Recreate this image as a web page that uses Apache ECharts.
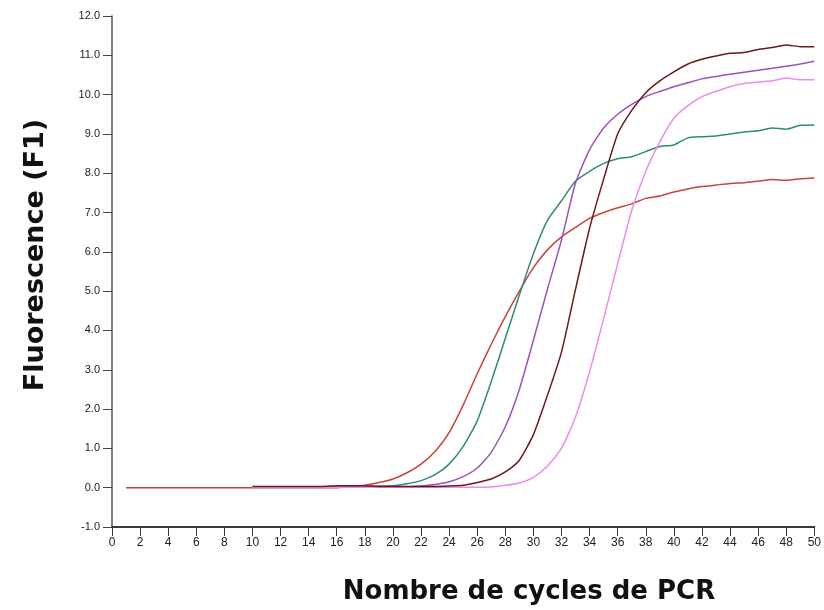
<!DOCTYPE html>
<html>
<head>
<meta charset="utf-8">
<script src="https://cdn.jsdelivr.net/npm/echarts@6/dist/echarts.min.js"></script>
<style>
  html, body { margin: 0; padding: 0; background: #fff; }
  #chart { width: 824px; height: 610px; }
</style>
</head>
<body>
<div id="chart"></div>
<script>
// Real-time PCR amplification curves: fluorescence (F1) per cycle.

// Cycle numbers at which each run was read
const cyclesFrom1 = [1,2,3,4,5,6,7,8,9,10,11,12,13,14,15,16,17,18,19,20,21,22,23,24,25,
  26,27,28,29,30,31,32,33,34,35,36,37,38,39,40,41,42,43,44,45,46,47,48,49,50];
const cyclesFrom10 = [10,11,12,13,14,15,16,17,18,19,20,21,22,23,24,25,
  26,27,28,29,30,31,32,33,34,35,36,37,38,39,40,41,42,43,44,45,46,47,48,49,50];

// Fluorescence readings
const redValues = [0,0,0,0,0,0,0,0,0,0,0,0,0,0,0,0,
  0.03,0.06,0.13,0.22,0.38,0.60,0.92,1.40,2.10,2.90,3.65,4.35,5.00,5.60,6.05,6.38,
  6.62,6.85,7.00,7.12,7.22,7.36,7.42,7.52,7.60,7.66,7.70,7.74,7.76,7.80,7.84,7.82,7.86,7.88];
const tealValues = [0.02,0.02,0.02,0.02,0.02,0.02,0.02,0.03,0.03,0.04,
  0.05,0.10,0.18,0.33,0.60,1.05,1.70,2.70,3.80,4.90,5.95,6.80,7.30,7.80,8.05,8.25,
  8.37,8.42,8.55,8.68,8.72,8.90,8.93,8.95,9.00,9.05,9.08,9.15,9.12,9.22,9.23];
const purpleValues = [0.02,0.02,0.02,0.02,0.02,0.02,0.02,0.02,0.02,0.02,0.02,0.02,
  0.04,0.08,0.15,0.28,0.50,0.90,1.55,2.50,3.75,5.05,6.30,7.75,8.60,9.15,
  9.50,9.75,9.95,10.08,10.20,10.30,10.40,10.46,10.52,10.57,10.62,10.67,10.72,10.78,10.85];
const pinkValues = [0.01,0.01,0.01,0.01,0.01,0.01,0.01,0.01,0.01,0.01,0.01,0.01,0.01,0.01,0.01,0.01,0.01,
  0.02,0.06,0.12,0.26,0.55,1.00,1.80,2.95,4.30,5.70,7.05,8.05,8.80,9.40,
  9.72,9.95,10.08,10.20,10.28,10.32,10.35,10.42,10.38,10.38];
const brownValues = [0.03,0.03,0.03,0.03,0.03,0.03,0.05,0.05,0.05,0.03,0.03,0.03,0.03,0.03,
  0.04,0.06,0.13,0.22,0.40,0.70,1.35,2.35,3.45,5.05,6.60,7.85,9.00,9.60,10.05,10.35,
  10.58,10.78,10.90,10.98,11.05,11.07,11.15,11.20,11.26,11.22,11.22];

// Axis ticks
const yTicks = [-1,0,1,2,3,4,5,6,7,8,9,10,11,12];
const xTickStep = 2;

const pair = (xs, ys) => xs.map((x, i) => [x, ys[i]]);

const runs = [
  { name: 'A', color: '#c8443a', x: cyclesFrom1, y: redValues },
  { name: 'B', color: '#2f8a7c', x: cyclesFrom10, y: tealValues },
  { name: 'C', color: '#9c52b6', x: cyclesFrom10, y: purpleValues },
  { name: 'D', color: '#ee8bec', x: cyclesFrom10, y: pinkValues },
  { name: 'E', color: '#6a1a1c', x: cyclesFrom10, y: brownValues }
];

const chart = echarts.init(document.getElementById('chart'), null, { renderer: 'canvas' });

chart.setOption({
  animation: false,
  backgroundColor: '#ffffff',
  grid: { left: 112, right: 9, top: 16, bottom: 83, containLabel: false },
  xAxis: {
    type: 'value',
    min: 0, max: 50, interval: xTickStep,
    axisLine: { show: true, onZero: false, lineStyle: { color: '#3a3a3a', width: 2 } },
    axisTick: { show: true, inside: false, length: 9, lineStyle: { color: '#3a3a3a', width: 1 } },
    axisLabel: { margin: 10, color: '#222', fontSize: 12,
      fontFamily: '"Liberation Sans Narrow", "Arial Narrow", sans-serif' },
    splitLine: { show: false }
  },
  yAxis: {
    type: 'value',
    min: yTicks[0], max: yTicks[yTicks.length - 1], interval: 1,
    axisLine: { show: true, onZero: false, lineStyle: { color: '#555', width: 1.5 } },
    axisTick: { show: true, inside: false, length: 9, lineStyle: { color: '#444', width: 1 } },
    axisLabel: { margin: 12, color: '#222', fontSize: 11,
      fontFamily: '"Liberation Sans", Arial, sans-serif',
      formatter: v => v.toFixed(1) },
    splitLine: { show: false }
  },
  series: runs.map(r => ({
    name: r.name,
    type: 'line',
    data: pair(r.x, r.y),
    showSymbol: false,
    symbol: 'none',
    smooth: 0.2,
    lineStyle: { color: r.color, width: 1.5 },
    itemStyle: { color: r.color },
    z: 2
  })),
  graphic: [
    {
      type: 'text',
      x: 36, y: 255,
      rotation: Math.PI / 2,
      style: {
        text: 'Fluorescence (F1)',
        fill: '#111',
        font: 'bold 27px "DejaVu Sans", Verdana, sans-serif',
        align: 'center',
        verticalAlign: 'middle'
      }
    },
    {
      type: 'text',
      x: 529, y: 592,
      style: {
        text: 'Nombre de cycles de PCR',
        fill: '#111',
        font: 'bold 26px "DejaVu Sans", Verdana, sans-serif',
        align: 'center',
        verticalAlign: 'middle'
      }
    }
  ]
});
</script>
</body>
</html>
